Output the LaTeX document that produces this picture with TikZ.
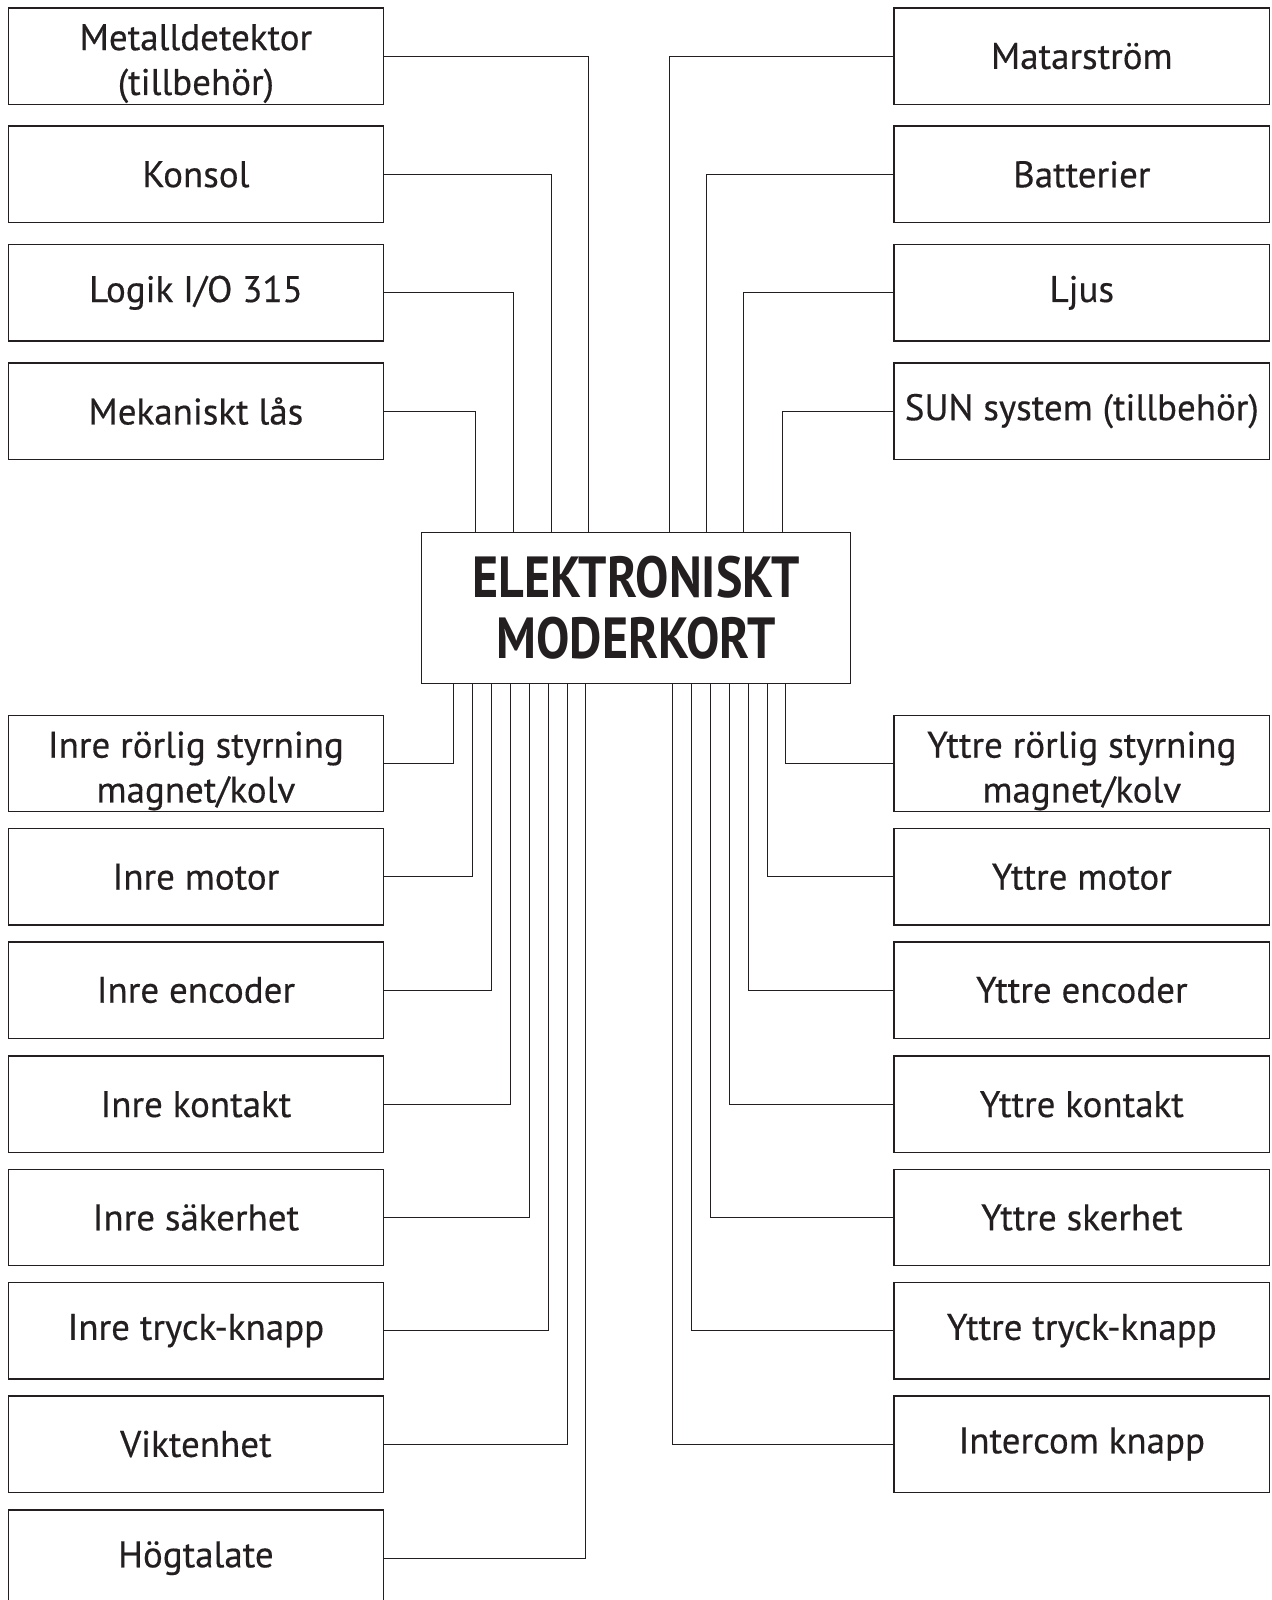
\documentclass[tikz,border=0pt]{standalone}
\usepackage{fontspec}
\setmainfont{PT Sans}
\newfontfamily\etikett{PT Sans}[FakeBold=0.4]
\newfontfamily\rubrik{PT Sans}[FakeStretch=0.86]
\usetikzlibrary{positioning}
\definecolor{svart}{HTML}{231F20}
\newcommand\lyft{\rule{0pt}{20.5pt}}

\begin{document}
\begin{tikzpicture}[x=0.5pt, y=-0.5pt, line join=miter,
  ruta/.style={draw=svart, line width=0.7pt, text=svart, inner sep=0pt,
    minimum width=187.7pt, minimum height=48.2pt, align=center,
    font=\etikett\fontsize{18.5}{22.4}\selectfont},
  kort/.style={draw=svart, line width=0.7pt, text=svart, inner sep=0pt,
    minimum width=214.7pt, minimum height=75.5pt, align=center,
    font=\rubrik\bfseries\fontsize{29}{30.6}\selectfont},
  ledning/.style={draw=svart, line width=0.5pt}]
  % Ram for bilden
  \useasboundingbox (0,0) rectangle (1271,1600);

  % Moderkortet i mitten
  \node[kort] (mk) at (636,608) {ELEKTRONISKT\\MODERKORT};

  % Enheter uppe till vänster
  \node[ruta] (md) at (195.9,56.1) {\lyft Metalldetektor\\(tillbehör)};
  \node[ruta] (ko) at (195.9,174.4) {Konsol};
  \node[ruta] (lo) at (195.9,292.8) {Logik I/O 315};
  \node[ruta] (ml) at (195.9,411.1) {Mekaniskt lås};

  % Enheter uppe till höger
  \node[ruta] (ma) at (1081.8,56.1) {Matarström};
  \node[ruta] (ba) at (1081.8,174.4) {Batterier};
  \node[ruta] (lj) at (1081.8,292.8) {Ljus};
  \node[ruta] (sun) at (1081.8,411.1) {SUN system (tillbehör)};

  % Inre sidan, nere till vänster
  \node[ruta] (ir) at (195.9,763.5) {\lyft Inre rörlig styrning\\magnet/kolv};
  \node[ruta] (im) at (195.9,876.8) {Inre motor};
  \node[ruta] (ie) at (195.9,990.0) {Inre encoder};
  \node[ruta] (ik) at (195.9,1104.3) {Inre kontakt};
  \node[ruta] (is) at (195.9,1217.5) {Inre säkerhet};
  \node[ruta] (it) at (195.9,1330.7) {Inre tryck-knapp};
  \node[ruta] (vi) at (195.9,1444.0) {Viktenhet};
  \node[ruta] (hg) at (195.9,1558.2) {Högtalate};

  % Yttre sidan, nere till höger
  \node[ruta] (yr) at (1081.8,763.5) {\lyft Yttre rörlig styrning\\magnet/kolv};
  \node[ruta] (ym) at (1081.8,876.8) {Yttre motor};
  \node[ruta] (ye) at (1081.8,990.0) {Yttre encoder};
  \node[ruta] (yk) at (1081.8,1104.3) {Yttre kontakt};
  \node[ruta] (ys) at (1081.8,1217.5) {Yttre skerhet};
  \node[ruta] (yt) at (1081.8,1330.7) {Yttre tryck-knapp};
  \node[ruta] (ic) at (1081.8,1444.0) {Intercom knapp};

  % Ledningar till kortets ovansida
  \draw[ledning] (md.east) -| ([xshift=83.7pt]mk.north west);
  \draw[ledning] (ko.east) -| ([xshift=65.5pt]mk.north west);
  \draw[ledning] (lo.east) -| ([xshift=46.35pt]mk.north west);
  \draw[ledning] (ml.east) -| ([xshift=27.35pt]mk.north west);
  \draw[ledning] (ma.west) -| ([xshift=124.5pt]mk.north west);
  \draw[ledning] (ba.west) -| ([xshift=142.85pt]mk.north west);
  \draw[ledning] (lj.west) -| ([xshift=161.2pt]mk.north west);
  \draw[ledning] (sun.west) -| ([xshift=180.7pt]mk.north west);

  % Ledningar till kortets undersida
  \draw[ledning] (ir.east) -| ([xshift=16.35pt]mk.south west);
  \draw[ledning] (im.east) -| ([xshift=25.7pt]mk.south west);
  \draw[ledning] (ie.east) -| ([xshift=35.2pt]mk.south west);
  \draw[ledning] (ik.east) -| ([xshift=44.7pt]mk.south west);
  \draw[ledning] (is.east) -| ([xshift=54.2pt]mk.south west);
  \draw[ledning] (it.east) -| ([xshift=63.7pt]mk.south west);
  \draw[ledning] (vi.east) -| ([xshift=73.2pt]mk.south west);
  \draw[ledning] (hg.east) -| ([xshift=82.35pt]mk.south west);
  \draw[ledning] (ic.west) -| ([xshift=125.7pt]mk.south west);
  \draw[ledning] (yt.west) -| ([xshift=135.2pt]mk.south west);
  \draw[ledning] (ys.west) -| ([xshift=144.7pt]mk.south west);
  \draw[ledning] (yk.west) -| ([xshift=154.2pt]mk.south west);
  \draw[ledning] (ye.west) -| ([xshift=163.7pt]mk.south west);
  \draw[ledning] (ym.west) -| ([xshift=173.2pt]mk.south west);
  \draw[ledning] (yr.west) -| ([xshift=182.35pt]mk.south west);
\end{tikzpicture}
\end{document}
